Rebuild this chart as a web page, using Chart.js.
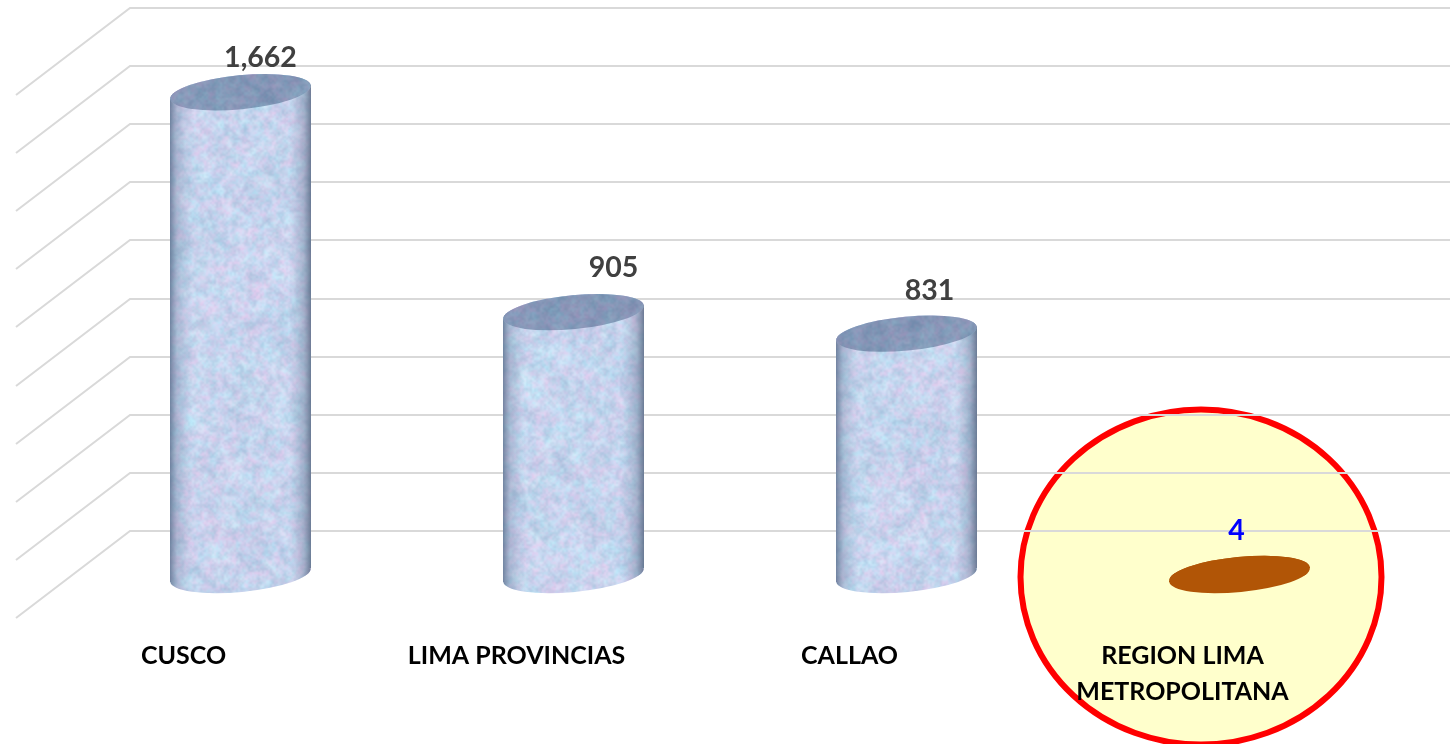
<!DOCTYPE html>
<html>
<head>
<meta charset="utf-8">
<title>Cylinder chart</title>
<script src="https://cdn.jsdelivr.net/npm/chart.js@4"></script>
<style>
    html, body { margin: 0; padding: 0; background: #fff; overflow: hidden; }
    canvas { display: block; }
</style>
</head>
<body>
<canvas id="myChart" width="1450" height="744"></canvas>
<script>
//! data
var categories = ['CUSCO', 'LIMA PROVINCIAS', 'CALLAO', ['REGION LIMA', 'METROPOLITANA']];
var values = [1662, 905, 831, 4];
var valueLabels = ['1,662', '905', '831', '4'];
var wallTicks = [200, 400, 600, 800, 1000, 1200, 1400, 1600, 1800, 2000];

// label placement / colours, relative to the top of each bar
var labelShiftX = [20, 40, 23, -3];
var labelShiftY = [-34, -44, -43, -43];
var labelColors = ['#404040', '#404040', '#404040', '#0000FF'];

var GRID = '#D9D9D9';
var BROWN = '#B15506';

//! marbled fill for the cylinders (fixed seed so every run looks the same)
function makeTexture() {
    var seed = 12345;
    function next() {
        seed = (seed * 1664525 + 1013904223) % 4294967296;
        return seed / 4294967296;
    }
    var palette = ['#B8E8FB', '#EBCFF0', '#A2BEDC', '#D4F0FC', '#DFC8EE', '#A8C0DA'];
    var c = document.createElement('canvas');
    c.width = 1450;
    c.height = 744;
    var g = c.getContext('2d');
    g.fillStyle = '#CFE2F4';
    g.fillRect(0, 0, c.width, c.height);
    var cells = [30, 15, 8, 4, 2];
    var alphas = [0.6, 0.55, 0.5, 0.38, 0.22];
    for (var o = 0; o < cells.length; o++) {
        var t = document.createElement('canvas');
        t.width = Math.ceil(c.width / cells[o]);
        t.height = Math.ceil(c.height / cells[o]);
        var tg = t.getContext('2d');
        for (var x = 0; x < t.width; x++) {
            for (var y = 0; y < t.height; y++) {
                tg.fillStyle = palette[Math.floor(next() * palette.length)];
                tg.fillRect(x, y, 1, 1);
            }
        }
        g.globalAlpha = alphas[o];
        g.imageSmoothingEnabled = true;
        g.imageSmoothingQuality = 'high';
        g.drawImage(t, 0, 0, t.width * cells[o], t.height * cells[o]);
    }
    g.globalAlpha = 1;
    return g.createPattern(c, 'repeat');
}

var ctx = document.getElementById('myChart').getContext('2d');
var marble = makeTexture();
var barFills = [marble, marble, marble, BROWN];

// tilted ellipses, the same for top and bottom of each cylinder
var TILT = -5.5 * Math.PI / 180;
var DROP = 7;
var MINOR = 17;

function ellipsePath(cx, cy, w) {
    var p = new Path2D();
    p.ellipse(cx, cy, w / 2, MINOR, TILT, 0, Math.PI * 2);
    return p;
}

function cylinderPath(el) {
    var l = el.x - el.width / 2, r = el.x + el.width / 2;
    var p = new Path2D();
    p.moveTo(l, el.y + DROP);
    p.lineTo(r, el.y - DROP);
    p.lineTo(r, el.base - DROP);
    p.lineTo(l, el.base + DROP);
    p.closePath();
    p.addPath(ellipsePath(el.x, el.y, el.width));
    p.addPath(ellipsePath(el.x, el.base, el.width));
    return p;
}

var wallPlugin = {
    id: 'wallLines',
    beforeDatasetsDraw: function (chart) {
        var c = chart.ctx;
        var wall = chart.scales.wall;
        var last = chart.getDatasetMeta(0).data[3];

        // highlight ring around the last region
        c.save();
        c.beginPath();
        c.ellipse(last.x - 38.5, last.base + 2, 180.5, 167.5, 0, 0, Math.PI * 2);
        c.fillStyle = '#FFFFCC';
        c.fill();
        c.lineWidth = 6;
        c.strokeStyle = '#FF0000';
        c.stroke();
        c.restore();

        // back wall lines and their slanted side wall part
        c.save();
        c.strokeStyle = GRID;
        c.lineWidth = 2;
        wallTicks.forEach(function (t) {
            var y = Math.round(wall.getPixelForValue(t));
            c.beginPath();
            c.moveTo(16, y + 87);
            c.lineTo(130, y);
            c.lineTo(1450, y);
            c.stroke();
        });
        c.restore();
    },
    beforeDatasetDraw: function (chart) {
        var c = chart.ctx;
        var els = chart.getDatasetMeta(0).data;
        var all = new Path2D();
        els.forEach(function (el, i) {
            var p = cylinderPath(el);
            c.fillStyle = barFills[i];
            c.fill(p);
            all.addPath(p);
        });
        c.save();
        c.clip(all);
    },
    afterDatasetDraw: function (chart) {
        var c = chart.ctx;
        var els = chart.getDatasetMeta(0).data;
        c.restore();
        els.forEach(function (el, i) {
            if (barFills[i] === marble) {
                // darker sides so the body reads round
                var l = el.x - el.width / 2;
                var g = c.createLinearGradient(l, 0, l + el.width, 0);
                g.addColorStop(0, 'rgba(84,104,134,0.75)');
                g.addColorStop(0.05, 'rgba(110,130,160,0.35)');
                g.addColorStop(0.16, 'rgba(140,160,190,0)');
                g.addColorStop(0.84, 'rgba(140,160,190,0)');
                g.addColorStop(0.95, 'rgba(100,118,146,0.4)');
                g.addColorStop(1, 'rgba(84,100,126,0.8)');
                c.fillStyle = g;
                c.fill(cylinderPath(el));
            }
            var top = ellipsePath(el.x, el.y, el.width);
            c.fillStyle = barFills[i];
            c.fill(top);
            if (barFills[i] === marble) {
                // lid: same marble, only darker
                c.save();
                c.globalCompositeOperation = 'multiply';
                c.fillStyle = '#ABB7C6';
                c.fill(top);
                c.restore();
            }
        });
    },
    afterDatasetsDraw: function (chart) {
        var c = chart.ctx;
        var els = chart.getDatasetMeta(0).data;
        c.save();
        c.font = 'bold 28.5px Lato';
        c.textAlign = 'center';
        c.textBaseline = 'middle';
        els.forEach(function (el, i) {
            c.fillStyle = labelColors[i];
            c.fillText(valueLabels[i], el.x + labelShiftX[i], el.y + labelShiftY[i]);
        });
        c.restore();
    }
};

var myChart = new Chart(ctx, {
    type: 'bar',
    data: {
        labels: categories,
        datasets: [{
            data: values,
            backgroundColor: barFills,
            borderWidth: 0,
            barThickness: 141,
            clip: false,
            yAxisID: 'y'
        }]
    },
    options: {
        responsive: false,
        animation: false,
        layout: { padding: { left: 74, right: 44, top: 8, bottom: 0 } },
        plugins: {
            legend: { display: false },
            title: { display: false },
            tooltip: { enabled: false }
        },
        scales: {
            x: {
                grid: { display: false, drawTicks: false },
                border: { display: false },
                afterFit: function (s) { s.height = 155; },
                ticks: {
                    z: 1,
                    color: '#000000',
                    font: { family: 'Lato', weight: 'bold', size: 25, lineHeight: 1.44 },
                    padding: 49,
                    labelOffset: -57,
                    autoSkip: false,
                    maxRotation: 0
                }
            },
            y: { display: false, min: -48, max: 1952 },
            wall: { axis: 'y', display: false, min: 0, max: 2000 }
        }
    },
    plugins: [wallPlugin]
});
</script>
</body>
</html>
